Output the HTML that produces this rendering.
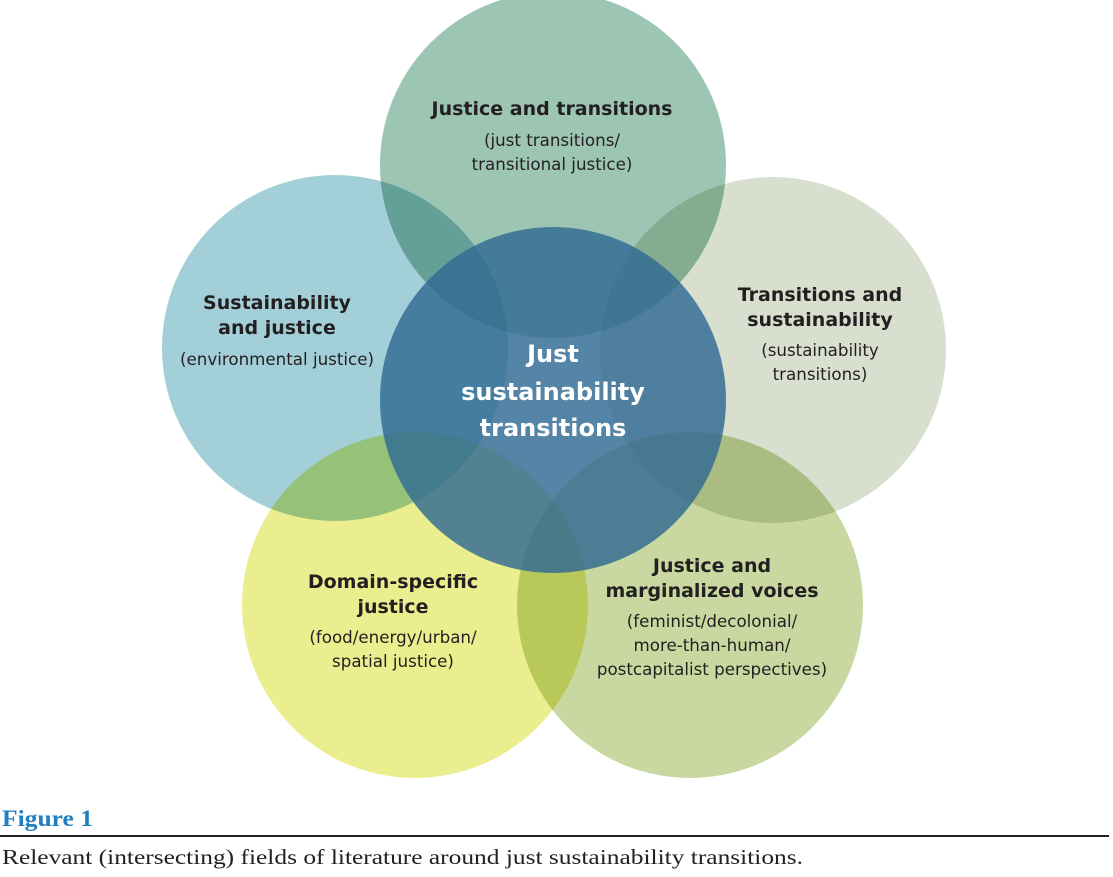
<!DOCTYPE html>
<html><head><meta charset="utf-8"><style>
body{margin:0;background:#fff;width:1113px;height:877px;overflow:hidden;position:relative;font-family:"Liberation Sans",sans-serif}
svg{position:absolute;left:0;top:0}
.t{font-family:"DejaVu Sans","Liberation Sans",sans-serif;fill:#231f20;text-anchor:middle}
.b{font-weight:bold;font-size:19px}
.n{font-size:16.7px}
.c{font-family:"DejaVu Sans","Liberation Sans",sans-serif;font-weight:bold;font-size:24px;fill:#fff;text-anchor:middle}
</style></head><body>
<svg width="1113" height="877">
<g style="isolation:isolate">
<circle cx="553" cy="165" r="173" fill="#9cc5b3" style="mix-blend-mode:multiply"/>
<circle cx="335" cy="348" r="173" fill="#a3cfd8" style="mix-blend-mode:multiply"/>
<circle cx="773" cy="350" r="173" fill="#d8dfcf" style="mix-blend-mode:multiply"/>
<circle cx="415" cy="605" r="173" fill="#ebee8e" style="mix-blend-mode:multiply"/>
<circle cx="690" cy="605" r="173" fill="#c8d8a0" style="mix-blend-mode:multiply"/>
<circle cx="553" cy="400" r="173" fill="#2f6a92" opacity="0.82"/>
</g>
<text class="t b" x="552" y="115">Justice and transitions</text>
<text class="t n" x="552" y="146">(just transitions/</text>
<text class="t n" x="552" y="170">transitional justice)</text>
<text class="t b" x="277" y="309">Sustainability</text>
<text class="t b" x="277" y="334">and justice</text>
<text class="t n" x="277" y="365">(environmental justice)</text>
<text class="t b" x="820" y="301">Transitions and</text>
<text class="t b" x="820" y="326">sustainability</text>
<text class="t n" x="820" y="356">(sustainability</text>
<text class="t n" x="820" y="380">transitions)</text>
<text class="t b" x="393" y="588">Domain-specific</text>
<text class="t b" x="393" y="613">justice</text>
<text class="t n" x="393" y="643">(food/energy/urban/</text>
<text class="t n" x="393" y="667">spatial justice)</text>
<text class="t b" x="712" y="572">Justice and</text>
<text class="t b" x="712" y="597">marginalized voices</text>
<text class="t n" x="712" y="627">(feminist/decolonial/</text>
<text class="t n" x="712" y="651">more-than-human/</text>
<text class="t n" x="712" y="675">postcapitalist perspectives)</text>
<text class="c" x="553" y="362">Just</text>
<text class="c" x="553" y="400">sustainability</text>
<text class="c" x="553" y="436">transitions</text>
<text x="2" y="826" textLength="91" lengthAdjust="spacingAndGlyphs" style="font-family:'Liberation Serif',serif;font-weight:bold;font-size:23px;fill:#1f7fc0">Figure 1</text>
<rect x="0" y="835" width="1109" height="2" fill="#231f20"/>
<text x="2" y="864" textLength="801" lengthAdjust="spacingAndGlyphs" style="font-family:'Liberation Serif',serif;font-size:21px;fill:#231f20">Relevant (intersecting) fields of literature around just sustainability transitions.</text>
</svg>
</body></html>
